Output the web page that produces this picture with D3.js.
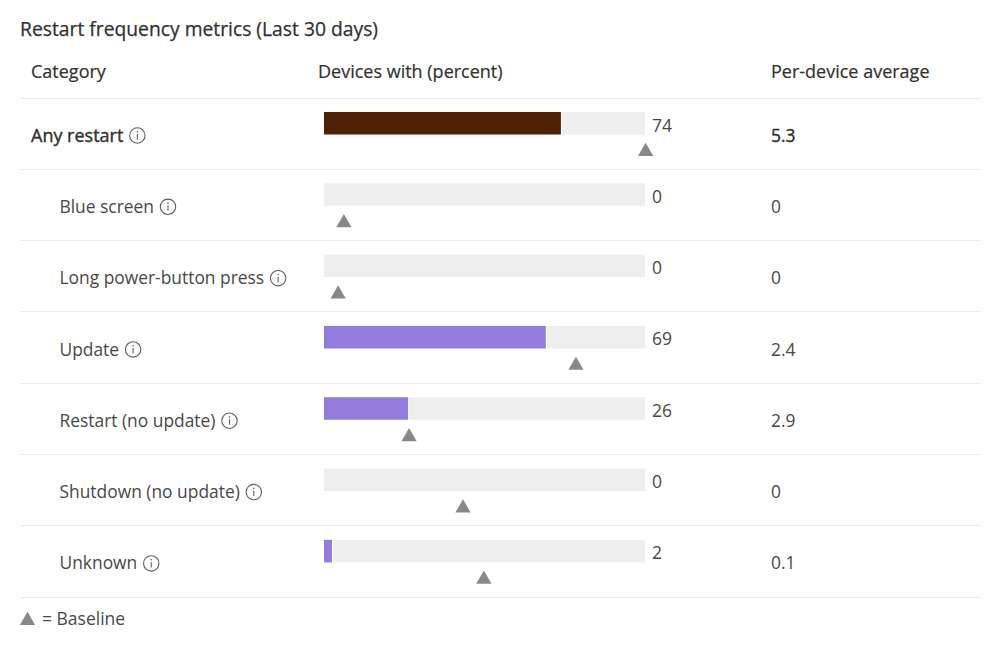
<!DOCTYPE html>
<html>
<head>
<meta charset="utf-8">
<script src="https://cdn.jsdelivr.net/npm/d3@7"></script>
<style>
  html, body { margin: 0; padding: 0; background: #fff; }
  svg { display: block; }
  text { font-family: "Open Sans", "Noto Sans", sans-serif; }
</style>
</head>
<body>
<div id="container"></div>
<script>
const categories = ["Any restart", "Blue screen", "Long power-button press", "Update", "Restart (no update)", "Shutdown (no update)", "Unknown"]
const devicePercent = [73.8, 0, 0, 69.1, 26.2, 0, 2.5]
const deviceLabels = ["74", "0", "0", "69", "26", "0", "2"]
const baselinePercent = [100.2, 6.2, 4.4, 78.5, 26.5, 43.3, 49.8]
const perDeviceAverage = ["5.3", "0", "0", "2.4", "2.9", "0", "0.1"]
const columnTitles = ["Category", "Devices with (percent)", "Per-device average"]

const width = 999
const height = 654
const dark = "#323130"
const body = "#494847"
const ruleColor = "#edebe9"

const svg = d3.select("#container").append("svg")
    .attr("width", width).attr("height", height)

const xScale = d3.scaleLinear().domain([0, 100]).range([324, 645])
const yScale = d3.scaleBand().domain(categories).range([98, 597.2])

const triangle = d3.symbol().type(d3.symbolTriangle).size(100)

// medium weight isn't in the installed font, a hairline stroke fakes it
const medium = (sel, w) => sel.attr("stroke", dark).attr("stroke-width", w)

svg.append("text")
    .attr("x", 20).attr("y", 35.5)
    .attr("font-size", 19.3)
    .attr("fill", dark)
    .call(medium, 0.25)
    .text("Restart frequency metrics (Last 30 days)")

const headerX = [31, 318, 771]
svg.selectAll(".head").data(columnTitles).join("text")
    .attr("class", "head")
    .attr("x", (d, i) => headerX[i]).attr("y", 78)
    .attr("font-size", 18)
    .attr("fill", dark)
    .call(medium, 0.2)
    .text(d => d)

// top rule plus one under every row
svg.selectAll(".rule").data([null, ...categories]).join("line")
    .attr("class", "rule")
    .attr("x1", 20).attr("x2", 981)
    .attr("y1", d => d === null ? 98.5 : Math.floor(yScale(d) + yScale.bandwidth()) + 0.5)
    .attr("y2", d => d === null ? 98.5 : Math.floor(yScale(d) + yScale.bandwidth()) + 0.5)
    .attr("stroke", ruleColor)

const rows = svg.selectAll(".row").data(categories).join("g")
    .attr("class", "row")
    .attr("transform", d => `translate(0,${yScale(d)})`)

const labels = rows.append("text")
    .attr("x", (d, i) => i === 0 ? 31 : 59.5).attr("y", 43.6)
    .attr("font-size", (d, i) => i === 0 ? 18 : 17.4)
    .attr("fill", (d, i) => i === 0 ? dark : body)
    .attr("stroke", (d, i) => i === 0 ? dark : "none")
    .attr("stroke-width", 0.4)
    .text(d => d)

// info icon sits right after the label
rows.each(function (d, i) {
    const g = d3.select(this)
    const end = labels.nodes()[i].getBBox()
    const cx = end.x + end.width + 14
    g.append("circle").attr("cx", cx).attr("cy", 37.5).attr("r", 7.7)
        .attr("fill", "none").attr("stroke", "#605e5c").attr("stroke-width", 1.1)
    g.append("line").attr("x1", cx).attr("x2", cx).attr("y1", 36).attr("y2", 41.5)
        .attr("stroke", "#605e5c").attr("stroke-width", 1.1)
    g.append("circle").attr("cx", cx).attr("cy", 33.8).attr("r", 0.8).attr("fill", "#605e5c")
})

rows.append("rect")
    .attr("x", xScale(0)).attr("y", 14)
    .attr("width", xScale(100) - xScale(0)).attr("height", 22.5)
    .attr("fill", "#eeeeee")

// thin white gap where the fill meets the track
rows.filter((d, i) => devicePercent[i] > 0).append("rect")
    .attr("x", d => xScale(devicePercent[categories.indexOf(d)])).attr("y", 14)
    .attr("width", 1.2).attr("height", 22.5)
    .attr("fill", "#fff")

rows.append("rect")
    .attr("x", xScale(0)).attr("y", 14)
    .attr("width", (d, i) => xScale(devicePercent[i]) - xScale(0)).attr("height", 22.5)
    .attr("fill", (d, i) => i === 0 ? "#502006" : "#937cdc")

rows.append("text")
    .attr("x", 652).attr("y", 33.5)
    .attr("font-size", 17.5).attr("fill", body)
    .text((d, i) => deviceLabels[i])

rows.append("path")
    .attr("d", triangle)
    .attr("transform", (d, i) => `translate(${xScale(baselinePercent[i])},53.5)`)
    .attr("fill", "#8a8886")

rows.append("text")
    .attr("x", 771).attr("y", 43.6)
    .attr("font-size", 17.4)
    .attr("fill", (d, i) => i === 0 ? dark : body)
    .attr("stroke", (d, i) => i === 0 ? dark : "none")
    .attr("stroke-width", 0.4)
    .text((d, i) => perDeviceAverage[i])

// legend
svg.append("path")
    .attr("d", triangle)
    .attr("transform", "translate(27.5,620.5)")
    .attr("fill", "#8a8886")
svg.append("text")
    .attr("x", 42).attr("y", 624.5)
    .attr("font-size", 17.5).attr("fill", body)
    .text("= Baseline")
</script>
</body>
</html>
